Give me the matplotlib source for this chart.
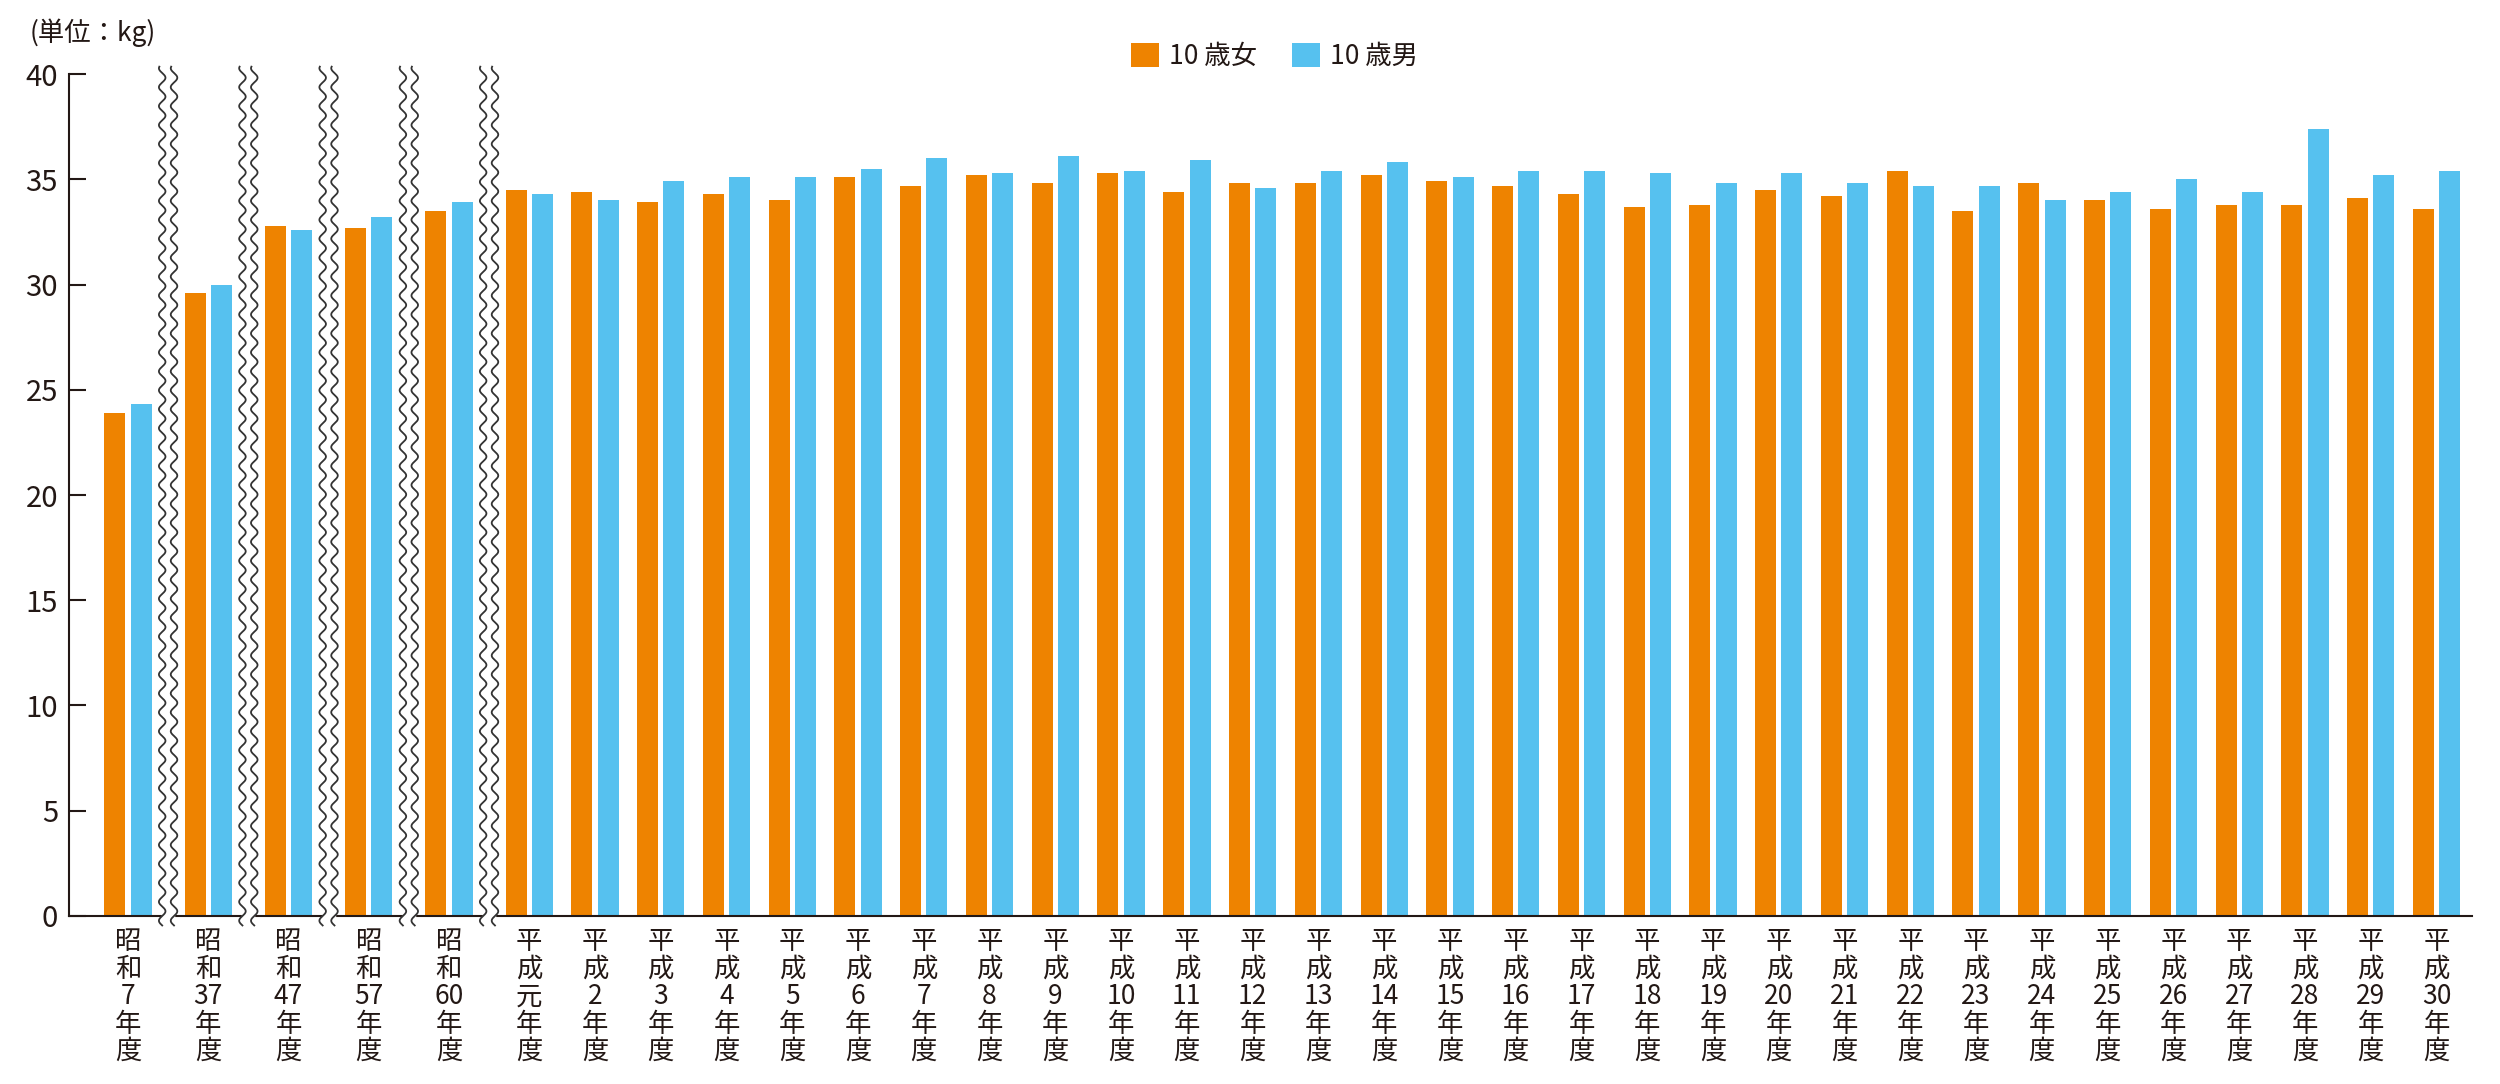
import numpy as np
import matplotlib.pyplot as plt
from matplotlib.patches import Rectangle

# 年度ラベル
eras = ["昭和"] * 5 + ["平成"] * 30
years = ["7", "37", "47", "57", "60", "元"] + [str(n) for n in range(2, 31)]

# 10歳の平均値 (kg)
girls = [23.9, 29.6, 32.8, 32.7, 33.5,
         34.5, 34.4, 33.9, 34.3, 34.0, 35.1, 34.7, 35.2, 34.8, 35.3,
         34.4, 34.8, 34.8, 35.2, 34.9, 34.7, 34.3, 33.7, 33.8, 34.5,
         34.2, 35.4, 33.5, 34.8, 34.0, 33.6, 33.8, 33.8, 34.1, 33.6]
boys = [24.3, 30.0, 32.6, 33.2, 33.9,
        34.3, 34.0, 34.9, 35.1, 35.1, 35.5, 36.0, 35.3, 36.1, 35.4,
        35.9, 34.6, 35.4, 35.8, 35.1, 35.4, 35.4, 35.3, 34.8, 35.3,
        34.8, 34.7, 34.7, 34.0, 34.4, 35.0, 34.4, 37.4, 35.2, 35.4]

plt.rcParams['font.family'] = ['Noto Sans CJK JP', 'DejaVu Sans']
ink = '#231815'
orange = '#EE8300'
blue = '#56C1EF'

# group positions: a wider step where the axis is broken (昭和 years)
steps = [0] + [1.22] * 5 + [1.0] * 29
x = np.cumsum(steps)
labels = ["\n".join(list(e)) + "\n" + y + "\n年\n度" for e, y in zip(eras, years)]

fig = plt.figure(figsize=(25, 10.84), dpi=100)
ax = fig.add_axes([0.0276, 0.155, 0.9612, 0.7767])

w = 0.32
ax.bar(x - 0.2, girls, w, color=orange, label='10 歳女', zorder=2)
ax.bar(x + 0.2, boys, w, color=blue, label='10 歳男', zorder=2)

ax.set_ylim(0, 40)
ax.set_xlim(-0.897, 35.64)
for s in ['top', 'right']:
    ax.spines[s].set_visible(False)
for s in ['left', 'bottom']:
    ax.spines[s].set_color(ink)
    ax.spines[s].set_linewidth(1.5)

ax.set_yticks(range(0, 41, 5))
ax.tick_params(axis='y', direction='in', length=12, width=1.5, color=ink,
               labelsize=21, pad=8, labelcolor=ink)
ax.set_xticks(x, labels)
ax.tick_params(axis='x', length=0, pad=9, labelsize=19, labelcolor=ink)
for t in ax.get_xticklabels():
    t.set_linespacing(1.02)

# wavy break marks between the 昭和 groups
yy = np.linspace(-0.45, 40.35, 900)
for i in range(5):
    xm = (x[i] + x[i + 1]) / 2
    ax.add_patch(Rectangle((xm - 0.09, -0.45), 0.18, 40.8, color='white',
                           clip_on=False, zorder=4))
    for off in (-0.09, 0.09):
        ax.plot(xm + off + 0.05 * np.sin(2 * np.pi * yy / 0.9), yy,
                color='#333333', lw=1.3, clip_on=False, zorder=5)

fig.text(30 / 2500, 1 - 33 / 1084, "(単位：kg)", fontsize=19, color=ink,
         ha='left', va='center')

ax.legend(loc='center', bbox_to_anchor=(0.5098, 0.948), bbox_transform=fig.transFigure,
          ncol=2, frameon=False, fontsize=19, handlelength=1.06, handleheight=1.06,
          handletextpad=0.38, columnspacing=1.3, borderpad=0, borderaxespad=0,
          labelcolor=ink)

fig.savefig('out.png', dpi=100)
